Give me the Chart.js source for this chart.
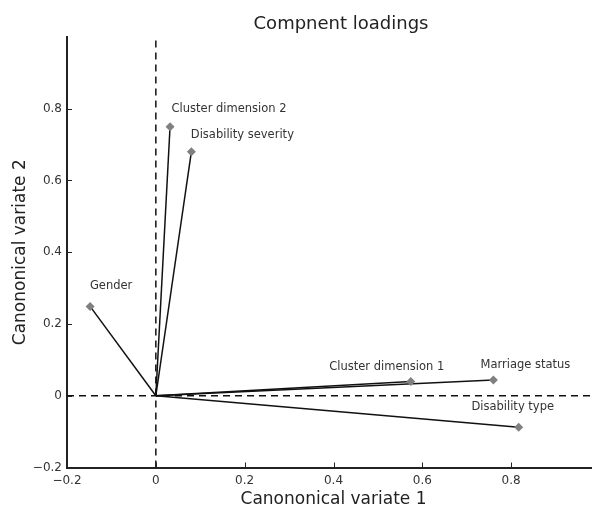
<!DOCTYPE html>
<html>
<head>
<meta charset="utf-8">
<script src="https://cdn.jsdelivr.net/npm/chart.js@4/dist/chart.umd.min.js"></script>
<style>
  html, body { margin: 0; padding: 0; background: #fff; overflow: hidden; }
  #wrap { width: 610px; height: 510px; }
</style>
</head>
<body>
<div id="wrap"><canvas id="loadings"></canvas></div>
<script>
// component loadings
const variables = ['Cluster dimension 2', 'Disability severity', 'Gender', 'Cluster dimension 1', 'Marriage status', 'Disability type'];
const variate1 = [0.032, 0.080, -0.148, 0.574, 0.760, 0.817];
const variate2 = [0.750, 0.680, 0.249, 0.040, 0.044, -0.088];

const xTicks = [-0.2, 0, 0.2, 0.4, 0.6, 0.8, 1];
const yTicks = [-0.2, 0, 0.2, 0.4, 0.6, 0.8];
const xRange = [-0.2, 1];
const yRange = [-0.2, 1];

// where each name sits relative to its marker (pixels)
const labelShift = [[59, -18], [51, -17], [21, -20], [-24, -14], [32, -15], [-6, -20]];

const FONT = 'DejaVu Sans';

function fmt(v) {
    const r = Math.round(v * 10) / 10;
    if (r === 0) return '0';
    return r < 0 ? '\u2212' + Math.abs(r) : String(r);
}

const vectors = variables.map((name, i) => ({
    label: name,
    data: [{x: 0, y: 0}, {x: variate1[i], y: variate2[i]}],
    showLine: true,
    borderColor: '#111',
    borderWidth: 1.5,
    pointStyle: 'rectRot',
    pointRadius: [0, 4.5],
    pointBackgroundColor: '#808080',
    pointBorderColor: '#808080',
    pointBorderWidth: 0,
    order: 1
}));

const zeroLines = [
    {data: [{x: 0, y: yRange[0]}, {x: 0, y: yRange[1]}]},
    {data: [{x: xRange[0], y: 0}, {x: xRange[1], y: 0}]}
].map(d => ({
    ...d,
    showLine: true,
    borderColor: '#111',
    borderWidth: 1.5,
    borderDash: [7, 5],
    pointRadius: 0,
    order: 5
}));

const extras = {
    id: 'extras',
    afterDraw(chart) {
        const {ctx, scales: {x, y}} = chart;
        ctx.save();
        // inward tick marks
        ctx.strokeStyle = '#222';
        ctx.lineWidth = 1;
        ctx.beginPath();
        xTicks.forEach(v => {
            const px = Math.round(x.getPixelForValue(v)) + 0.5;
            ctx.moveTo(px, y.bottom);
            ctx.lineTo(px, y.bottom - 5);
        });
        yTicks.forEach(v => {
            const py = Math.round(y.getPixelForValue(v)) + 0.5;
            ctx.moveTo(x.left, py);
            ctx.lineTo(x.left + 5, py);
        });
        ctx.stroke();

        // variable names
        ctx.fillStyle = '#333';
        ctx.font = '11.5px "' + FONT + '"';
        ctx.textAlign = 'center';
        ctx.textBaseline = 'middle';
        variables.forEach((name, i) => {
            const px = x.getPixelForValue(variate1[i]) + labelShift[i][0];
            const py = y.getPixelForValue(variate2[i]) + labelShift[i][1];
            ctx.fillText(name, px, py);
        });

        // title
        ctx.fillStyle = '#222';
        ctx.font = '18px "' + FONT + '"';
        ctx.fillText('Compnent loadings', 341, 24);
        ctx.restore();
    }
};

new Chart(document.querySelector('#loadings'), {
    type: 'scatter',
    data: {datasets: [...vectors, ...zeroLines]},
    options: {
        responsive: true,
        maintainAspectRatio: false,
        animation: false,
        layout: {padding: {top: 37, right: 10, left: 0, bottom: 0}},
        plugins: {legend: {display: false}, tooltip: {enabled: false}},
        scales: {
            x: {
                type: 'linear',
                min: xRange[0],
                max: xRange[1],
                afterBuildTicks: s => { s.ticks = xTicks.map(v => ({value: v})); },
                afterFit: s => { s.height = 42.5; },
                grid: {drawOnChartArea: false, drawTicks: false, color: 'transparent'},
                border: {display: true, color: '#222', width: 2},
                ticks: {padding: 6, color: '#333', font: {family: FONT, size: 12}, callback: v => fmt(v), maxRotation: 0, autoSkip: false},
                title: {display: true, text: 'Canononical variate 1', color: '#222', font: {family: FONT, size: 17}, padding: {top: 0, bottom: 0}}
            },
            y: {
                type: 'linear',
                min: yRange[0],
                max: yRange[1],
                afterBuildTicks: s => { s.ticks = yTicks.map(v => ({value: v})); },
                afterFit: s => { s.width = 67; },
                grid: {drawOnChartArea: false, drawTicks: false, color: 'transparent'},
                border: {display: true, color: '#222', width: 2},
                ticks: {padding: 5, color: '#333', font: {family: FONT, size: 12}, callback: v => fmt(v)},
                title: {display: true, text: 'Canononical variate 2', color: '#222', font: {family: FONT, size: 17}, padding: {top: 10, bottom: 0}}
            }
        }
    },
    plugins: [extras]
});
</script>
</body>
</html>
